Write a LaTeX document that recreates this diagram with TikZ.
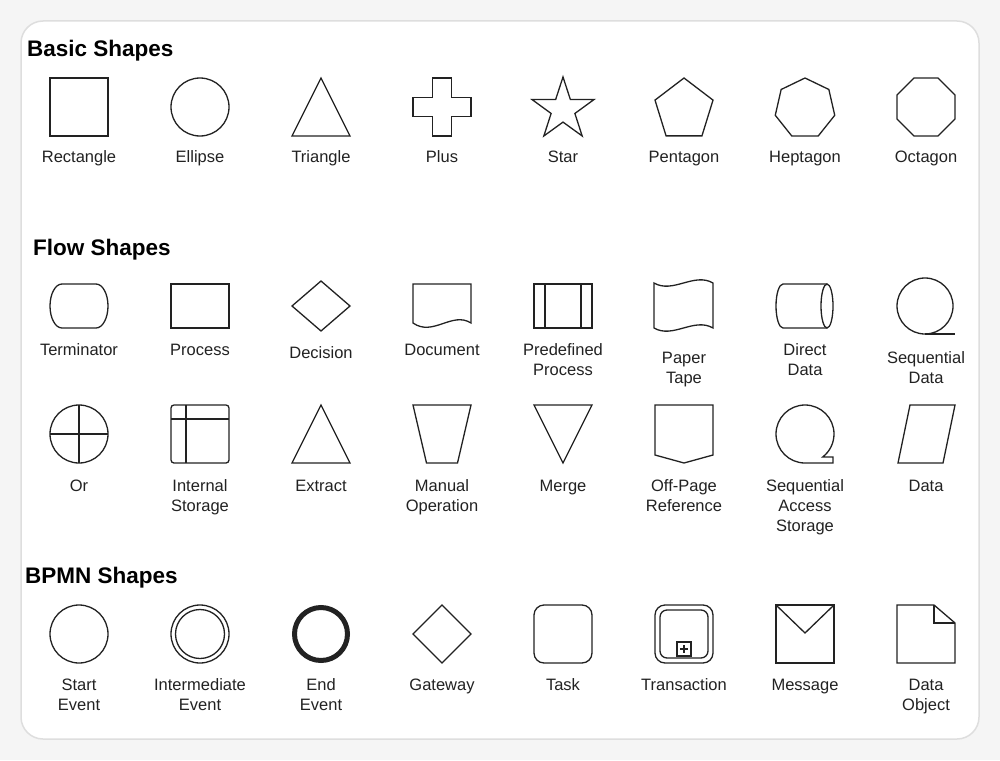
\documentclass[tikz,border=0pt]{standalone}
\usepackage{fontspec}
\setmainfont{Liberation Sans}
\usetikzlibrary{calc,positioning}
\definecolor{pagegray}{HTML}{F5F5F5}
\definecolor{framegray}{HTML}{DEDEDE}
\definecolor{ink}{HTML}{222222}

\begin{document}
\begin{tikzpicture}[x=1pt,y=-1pt]
          \tikzstyle{shp} = [draw=ink, line width=1.3pt]
          \tikzstyle{lbl} = [inner sep=0pt, align=center, anchor=base, text=ink, font=\fontsize{16.5}{20}\selectfont]
          \tikzstyle{hdr} = [inner sep=0pt, anchor=base west, font=\fontsize{22.5}{27}\bfseries\selectfont]
          \fill[pagegray] (0,0) rectangle (1000,760);
          \useasboundingbox (0,0) rectangle (1000,760);
          \draw[framegray, line width=1.5pt, fill=white, rounded corners=22pt] (21,21) rectangle (979,739);

          \node[hdr] (basic) at (27,56.7) {Basic Shapes};
          \node[hdr] (flow) at (33,255) {Flow Shapes};
          \node[hdr] (bpmn) at (25,583.3) {BPMN Shapes};

          % basic shapes
          \draw[shp] (50,78) rectangle (108,136);
          \draw[shp] (200,107) circle[radius=29];
          \draw[shp] (321,78) -- (350,136) -- (292,136) -- cycle;
          \draw[shp] (432.3,78) -- (451.7,78) -- (451.7,97.3) -- (471,97.3) -- (471,116.7) -- (451.7,116.7)
                     -- (451.7,136) -- (432.3,136) -- (432.3,116.7) -- (413,116.7) -- (413,97.3) -- (432.3,97.3) -- cycle;
          \draw[shp] (563,109.6) +(-90:32.6) \foreach \a in {-90,-18,54,126,198} {-- +(\a+36:12.5) -- +(\a+72:32.6)} -- cycle;
          \draw[shp] (684,110) +(-90:30.5 and 32) \foreach \a in {-18,54,126,198} {-- +(\a:30.5 and 32)} -- cycle;
          \draw[shp] (805,108.5) +(-90:30.5) \foreach \k in {1,...,6} {-- +({-90+360*\k/7}:30.5)} -- cycle;
          \draw[shp] (926,107) +(22.5:31.4) \foreach \a in {67.5,112.5,...,337.5} {-- +(\a:31.4)} -- cycle;

          \node[lbl] (lrect) at (79,162) {Rectangle};
          \node[lbl] (lellipse) at (200,162) {Ellipse};
          \node[lbl] (ltriangle) at (321,162) {Triangle};
          \node[lbl] (lplus) at (442,162) {Plus};
          \node[lbl] (lstar) at (563,162) {Star};
          \node[lbl] (lpentagon) at (684,162) {Pentagon};
          \node[lbl] (lheptagon) at (805,162) {Heptagon};
          \node[lbl] (loctagon) at (926,162) {Octagon};

          % flow shapes
          \draw[shp] (62,284) -- (96,284) arc[start angle=-90, end angle=90, x radius=12, y radius=22]
                     -- (62,328) arc[start angle=90, end angle=270, x radius=12, y radius=22] -- cycle;
          \draw[shp] (171,284) rectangle (229,328);
          \draw[shp] (321,281) -- (350,306) -- (321,331) -- (292,306) -- cycle;
          \draw[shp] (413,284) -- (471,284) -- (471,323) .. controls (452,311) and (433,337) .. (413,323) -- cycle;
          \draw[shp] (534,284) rectangle (592,328);
          \draw[shp] (545,284) -- (545,328) (581,284) -- (581,328);
          \draw[shp] (654,283) .. controls (673,294) and (694,272) .. (713,283) -- (713,328)
                     .. controls (694,317) and (673,339) .. (654,328) -- cycle;
          \draw[shp] (827,328) -- (783,328) arc[start angle=90, end angle=270, x radius=7, y radius=22] -- (827,284);
          \draw[shp] (827,306) ellipse[x radius=6, y radius=22];
          \draw[shp] (925,306) circle[radius=28];
          \draw[shp] (925,334) -- (955,334);

          % multi-line labels sit on their last baseline
          \node[lbl] (lterm) at (79,355) {Terminator};
          \node[lbl] (lprocess) at (200,355) {Process};
          \node[lbl] (ldecision) at (321,358) {Decision};
          \node[lbl] (ldocument) at (442,355) {Document};
          \node[lbl] (lpredef) at (563,375) {Predefined\\Process};
          \node[lbl] (ltape) at (684,383) {Paper\\Tape};
          \node[lbl] (ldirect) at (805,375) {Direct\\Data};
          \node[lbl] (lseqdata) at (926,383) {Sequential\\Data};

          \draw[shp] (79,434) circle[radius=29];
          \draw[shp] (50,434) -- (108,434) (79,405) -- (79,463);
          \draw[shp, rounded corners=3pt] (171,405) rectangle (229,463);
          \draw[shp] (186,405) -- (186,463) (171,419) -- (229,419);
          \draw[shp] (321,405) -- (350,463) -- (292,463) -- cycle;
          \draw[shp] (413,405) -- (471,405) -- (457.5,463) -- (426.5,463) -- cycle;
          \draw[shp] (534,405) -- (592,405) -- (563,463) -- cycle;
          \draw[shp] (655,405) -- (713,405) -- (713,455) -- (684,463) -- (655,455) -- cycle;
          \draw[shp] (833,463) -- (805,463) arc[start angle=90, end angle=412.5, radius=29] -- (833,457) -- cycle;
          \draw[shp] (910,405) -- (955,405) -- (943,463) -- (898,463) -- cycle;

          \node[lbl] (lor) at (79,491) {Or};
          \node[lbl] (linternal) at (200,511) {Internal\\Storage};
          \node[lbl] (lextract) at (321,491) {Extract};
          \node[lbl] (lmanual) at (442,511) {Manual\\Operation};
          \node[lbl] (lmerge) at (563,491) {Merge};
          \node[lbl] (loffpage) at (684,511) {Off-Page\\Reference};
          \node[lbl] (lseqacc) at (805,531) {Sequential\\Access\\Storage};
          \node[lbl] (ldata) at (926,491) {Data};

          % bpmn shapes
          \draw[shp] (79,634) circle[radius=29];
          \draw[shp] (200,634) circle[radius=29];
          \draw[shp] (200,634) circle[radius=24.5];
          \draw[shp, line width=5pt] (321,634) circle[radius=26.5];
          \draw[shp] (442,605) -- (471,634) -- (442,663) -- (413,634) -- cycle;
          \draw[shp, rounded corners=10pt] (534,605) rectangle (592,663);
          \draw[shp, rounded corners=10pt] (655,605) rectangle (713,663);
          \draw[shp, rounded corners=7pt] (660,610) rectangle (708,658);
          \draw[shp, line width=2pt] (677,642) rectangle (691,656);
          \draw[shp, line width=1.5pt] (684,645) -- (684,653) (680,649) -- (688,649);
          \draw[shp] (776,605) rectangle (834,663);
          \draw[shp] (776,605) -- (805,633) -- (834,605);
          \draw[shp] (897,605) -- (934,605) -- (955,623) -- (955,663) -- (897,663) -- cycle;
          \draw[shp] (934,605) -- (934,623) -- (955,623);

          \node[lbl] (lstart) at (79,710) {Start\\Event};
          \node[lbl] (linter) at (200,710) {Intermediate\\Event};
          \node[lbl] (lend) at (321,710) {End\\Event};
          \node[lbl] (lgateway) at (442,690) {Gateway};
          \node[lbl] (ltask) at (563,690) {Task};
          \node[lbl] (ltrans) at (684,690) {Transaction};
          \node[lbl] (lmessage) at (805,690) {Message};
          \node[lbl] (ldataobj) at (926,710) {Data\\Object};
        \end{tikzpicture}
\end{document}
